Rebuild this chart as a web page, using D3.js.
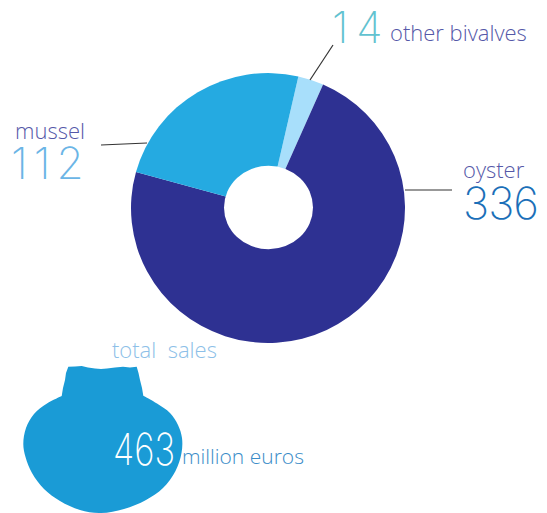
<!DOCTYPE html>
<html>
<head>
<meta charset="utf-8">
<script src="https://cdn.jsdelivr.net/npm/d3@7"></script>
<style>
  html, body { margin: 0; padding: 0; background: #fff; }
  svg { display: block; }
  text { font-family: "Open Sans", sans-serif; font-weight: 300; white-space: pre; }
  .num { font-family: "Inter", sans-serif; font-weight: 150; }
</style>
</head>
<body>
<svg class="donut" width="547" height="513"></svg>
<script>
// data
let categories = ["other bivalves", "oyster", "mussel"];
let salesValues = [14, 336, 112];
let sliceColors = ["#a8dffb", "#2e3192", "#25aae1"];
let totalLabel = "463";

let svg = d3.select("svg.donut");

// donut, slightly squashed like the original
let pieGen = d3.pie()
    .sort(null)
    .startAngle(12.8 * Math.PI / 180)
    .endAngle(372.8 * Math.PI / 180);
let arcGen = d3.arc().innerRadius(0).outerRadius(137);
let colorScale = d3.scaleOrdinal().domain(categories).range(sliceColors);

let gPie = svg.append("g").attr("transform", "translate(268,208) scale(1,0.985)");
gPie.selectAll("path")
    .data(pieGen(salesValues))
    .join("path")
    .attr("d", arcGen)
    .attr("fill", (d, i) => colorScale(categories[i]));

// hole
svg.append("ellipse")
    .attr("cx", 268.5)
    .attr("cy", 207.5)
    .attr("rx", 44.5)
    .attr("ry", 41.8)
    .attr("fill", "#fff");

// leader lines
[[310, 80, 333, 45], [101, 145, 147, 143], [405, 190, 452, 190]].forEach(l => {
    svg.append("line")
        .attr("x1", l[0]).attr("y1", l[1])
        .attr("x2", l[2]).attr("y2", l[3])
        .attr("stroke", "#333")
        .attr("stroke-width", 1.2);
});

// shell: hinge is straight pieces, body is one smooth curve
let shellHinge = [[61.7,396],[63,388],[65,380],[66,373],[68.3,366.7],[75,366.5],[81.7,366],[88,367.5],[95,368.5],[101,369],[107,368.5],
    [115,367.5],[123,366.7],[130,367.5],[136.7,366.7],[138.5,373],[140,380],[142,388],[143.3,395.7]];
let shellBody = [[143.3,395.7],[157,403.5],[170,413],[178,425],[182,438],[181.5,453],[175.5,471],[163,488],[146,500],[124,509],[101,513],
    [80,510],[60,501],[44,489],[32,473],[25.5,457],[23.3,444],[26,428],[34,414],[47,403.5],[61.7,396]];
svg.append("path")
    .attr("d", d3.line()(shellHinge) + d3.line().curve(d3.curveCatmullRom)(shellBody).replace("M", "L") + "Z")
    .attr("fill", "#1a9bd6");

function label(txt, x, y, size, color, cls, spacing) {
    return svg.append("text")
        .attr("class", cls || null)
        .attr("x", x)
        .attr("y", y)
        .attr("font-size", size)
        .attr("letter-spacing", spacing || 0)
        .attr("fill", color)
        .text(txt);
}

label(salesValues[0], 332, 42.5, 43, "#62c2d0", "num", 8);
label(categories[0], 390, 41, 22, "#5558a8");
label(categories[2], 15, 139, 22, "#5558a8");
label(salesValues[2], 11, 179, 44, "#6bb5e6", "num", 6);
label(categories[1], 463, 178, 22, "#5558a8");
label(salesValues[1], 463, 219, 44, "#1b6fb8", "num", -1);
label("total  sales", 112, 358, 22, "#8dbfe8");
label(totalLabel, 113, 465, 44, "#ffffff", "num")
    .attr("textLength", 62)
    .attr("lengthAdjust", "spacingAndGlyphs");
label("million euros", 182, 464, 21, "#3a8cc8");
</script>
</body>
</html>
